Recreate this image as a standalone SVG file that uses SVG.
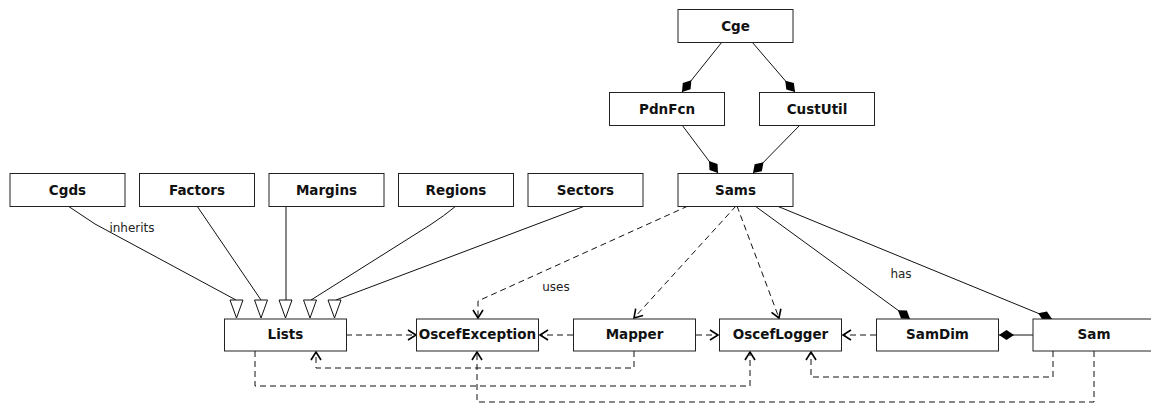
<svg xmlns="http://www.w3.org/2000/svg" width="1151" height="405" viewBox="0 0 1151 405">
<style>
.box{fill:#fff;stroke:#222;stroke-width:1}
.t{font-family:"DejaVu Sans",sans-serif;font-weight:bold;font-size:13.5px;fill:#111;text-anchor:middle;dominant-baseline:central}
.lbl{font-family:"DejaVu Sans",sans-serif;font-size:12px;fill:#222;text-anchor:middle}
.s{fill:none;stroke:#111;stroke-width:1}
.d{fill:none;stroke:#111;stroke-width:1;stroke-dasharray:6,4}
.tri{fill:#fff;stroke:#111;stroke-width:1}
</style>
<defs>
<marker id="dia" markerUnits="userSpaceOnUse" markerWidth="16" markerHeight="11" refX="15" refY="5" orient="auto" overflow="visible">
<path d="M0,5 L7.5,0 L15,5 L7.5,10 Z" fill="#000"/>
</marker>
<marker id="arr" markerUnits="userSpaceOnUse" markerWidth="10" markerHeight="11" refX="8" refY="5" orient="auto" overflow="visible">
<path d="M0,0 L8,5 L0,10" fill="none" stroke="#000" stroke-width="1.6"/>
</marker>
</defs>
<g id="connectors">
<line class="s" x1="722" y1="42" x2="682" y2="92" marker-end="url(#dia)"/>
<line class="s" x1="752" y1="42" x2="795" y2="92" marker-end="url(#dia)"/>
<line class="s" x1="682" y1="125" x2="718" y2="173" marker-end="url(#dia)"/>
<line class="s" x1="800" y1="125" x2="753" y2="173" marker-end="url(#dia)"/>
<polyline class="s" points="68,206 95,224 236,300"/>
<line class="s" x1="197" y1="206" x2="261" y2="300"/>
<line class="s" x1="286" y1="206" x2="286" y2="300"/>
<path class="s" d="M456,206 Q444,216 430,225 L311,300"/>
<line class="s" x1="585" y1="206" x2="336" y2="300"/>
<polygon class="tri" points="230,300 243,300 236.5,318"/>
<polygon class="tri" points="254.5,300 267.5,300 261,318"/>
<polygon class="tri" points="279,300 292,300 285.5,318"/>
<polygon class="tri" points="303.5,300 316.5,300 310,318"/>
<polygon class="tri" points="328,300 341,300 334.5,318"/>
<text class="lbl" x="132" y="232">inherits</text>
<polyline class="d" points="688,206 478,301 478,318" marker-end="url(#arr)"/>
<text class="lbl" x="556" y="291">uses</text>
<line class="d" x1="736" y1="206" x2="634" y2="318" marker-end="url(#arr)"/>
<line class="d" x1="737" y1="206" x2="779" y2="318" marker-end="url(#arr)"/>
<line class="s" x1="755" y1="206" x2="910" y2="319" marker-end="url(#dia)"/>
<line class="s" x1="777" y1="206" x2="1052" y2="319" marker-end="url(#dia)"/>
<text class="lbl" x="901" y="278">has</text>
<line class="d" x1="346" y1="335" x2="416" y2="335" marker-end="url(#arr)"/>
<line class="d" x1="573" y1="335" x2="540" y2="335" marker-end="url(#arr)"/>
<line class="d" x1="696" y1="335" x2="718" y2="335" marker-end="url(#arr)"/>
<line class="d" x1="876" y1="335" x2="843" y2="335" marker-end="url(#arr)"/>
<line class="s" x1="1033" y1="335" x2="999" y2="335" marker-end="url(#dia)"/>
<polyline class="d" points="634,351 634,368 316,368 316,352" marker-end="url(#arr)"/>
<polyline class="d" points="255,351 255,386 750,386 750,352" marker-end="url(#arr)"/>
<polyline class="d" points="1053,351 1053,377 811,377 811,352" marker-end="url(#arr)"/>
<polyline class="d" points="1094,351 1094,402 477,402 477,352" marker-end="url(#arr)"/>
</g>
<g id="Cge"><rect class="box" x="678" y="9.5" width="115" height="33"/><text class="t" x="735.5" y="26">Cge</text></g>
<g id="PdnFcn"><rect class="box" x="609.5" y="92.5" width="115" height="33"/><text class="t" x="667" y="109">PdnFcn</text></g>
<g id="CustUtil"><rect class="box" x="759.5" y="92.5" width="115" height="33"/><text class="t" x="817" y="109">CustUtil</text></g>
<g id="Sams"><rect class="box" x="678" y="173.5" width="115" height="33"/><text class="t" x="735.5" y="190">Sams</text></g>
<g id="Cgds"><rect class="box" x="10" y="173.5" width="115" height="33"/><text class="t" x="67.5" y="190">Cgds</text></g>
<g id="Factors"><rect class="box" x="139.5" y="173.5" width="115" height="33"/><text class="t" x="197" y="190">Factors</text></g>
<g id="Margins"><rect class="box" x="269" y="173.5" width="115" height="33"/><text class="t" x="326.5" y="190">Margins</text></g>
<g id="Regions"><rect class="box" x="398.5" y="173.5" width="115" height="33"/><text class="t" x="456" y="190">Regions</text></g>
<g id="Sectors"><rect class="box" x="528" y="173.5" width="115" height="33"/><text class="t" x="585.5" y="190">Sectors</text></g>
<g id="Lists"><rect class="box" x="224.5" y="319" width="122" height="32"/><text class="t" x="285.5" y="334">Lists</text></g>
<g id="OscefException"><rect class="box" x="416.5" y="319" width="122" height="32"/><text class="t" x="477.5" y="334">OscefException</text></g>
<g id="Mapper"><rect class="box" x="573.5" y="319" width="122" height="32"/><text class="t" x="634.5" y="334">Mapper</text></g>
<g id="OscefLogger"><rect class="box" x="719.5" y="319" width="122" height="32"/><text class="t" x="780.5" y="334">OscefLogger</text></g>
<g id="SamDim"><rect class="box" x="876.5" y="319" width="122" height="32"/><text class="t" x="937.5" y="334">SamDim</text></g>
<g id="Sam"><rect class="box" x="1033" y="319" width="122" height="32"/><text class="t" x="1094" y="334">Sam</text></g>
</svg>
